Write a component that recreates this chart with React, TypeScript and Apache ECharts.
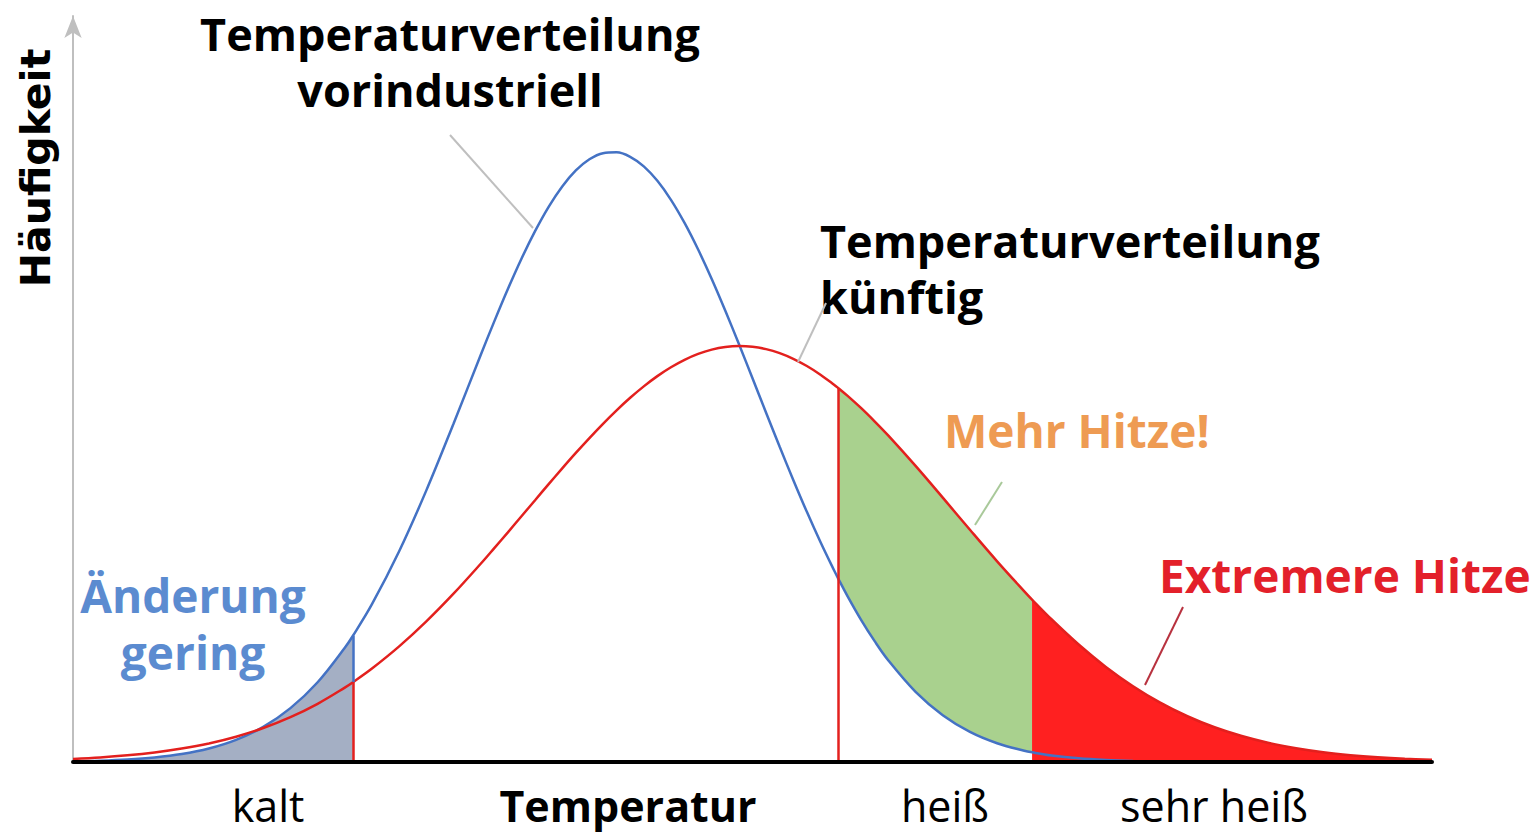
import React, { useEffect, useRef } from 'react';
import * as echarts from 'echarts';

// Temperature axis positions (arbitrary units, 0..100) at which the curves were read
const xs = [0, 2, 4, 6, 8, 10, 12, 14, 16, 18, 20, 20.6, 22, 24, 26, 28, 30, 31, 32, 33, 34, 35, 36, 37, 38, 39, 40, 41, 42, 43, 44, 45, 46, 47, 48, 49, 50, 51, 52, 53, 54, 55, 56, 56.3, 57, 58, 59, 60, 62, 64, 66, 68, 70, 70.57, 72, 74, 76, 78, 80, 82, 84, 86, 88, 90, 92, 94, 96, 98, 100];
// Frequency, pre-industrial distribution (blue)
const preIndustrial = [0.11, 0.21, 0.4, 0.74, 1.3, 2.21, 3.63, 5.76, 8.83, 13.08, 18.73, 20.7, 25.87, 34.55, 44.53, 55.46, 66.73, 72.24, 77.54, 82.51, 87.03, 91.02, 94.36, 96.98, 98.81, 99.81, 99.95, 99.22, 97.65, 95.28, 92.16, 88.37, 84.01, 79.18, 73.97, 68.52, 62.91, 57.27, 51.68, 46.24, 41.01, 36.06, 31.43, 30.11, 27.16, 23.27, 19.77, 16.64, 11.5, 7.67, 4.94, 3.08, 1.85, 1.59, 1.07, 0.6, 0.33, 0.17, 0.08, 0.04, 0.02, 0.01, 0, 0, 0, 0, 0, 0, 0];
// Frequency, future distribution (red)
const future = [0.51, 0.75, 1.09, 1.56, 2.2, 3.04, 4.15, 5.57, 7.35, 9.54, 12.19, 13.08, 15.32, 18.95, 23.05, 27.59, 32.5, 35.06, 37.65, 40.29, 42.92, 45.55, 48.14, 50.67, 53.11, 55.45, 57.66, 59.71, 61.58, 63.26, 64.71, 65.93, 66.9, 67.6, 68.04, 68.2, 68.08, 67.69, 67.03, 66.1, 64.92, 63.5, 61.86, 61.33, 60.02, 58.0, 55.81, 53.5, 48.54, 43.34, 38.07, 32.9, 27.98, 26.63, 23.4, 19.26, 15.59, 12.42, 9.73, 7.5, 5.69, 4.25, 3.12, 2.26, 1.6, 1.12, 0.77, 0.52, 0.35];
// Thresholds: cold / hot / very hot
const thresholds = [20.6, 56.3, 70.57];
const bottomLabels = ['kalt', 'Temperatur', 'heiß', 'sehr heiß'];
const titlePre = ['Temperaturverteilung', 'vorindustriell'];
const titleFuture = ['Temperaturverteilung', 'künftig'];
const noteCold = ['Änderung', 'gering'];
const noteHot = 'Mehr Hitze!';
const noteVeryHot = 'Extremere Hitze';
const yName = 'Häufigkeit';

const FONT = '"Open Sans", "Noto Sans", sans-serif';

function txt(text: string, x: number, y: number, size: number, color: string, weight: string, align: string, extra: any = {}) {
  const { family, ...rest } = extra;
  return {
    type: 'text',
    x,
    y,
    z: 20,
    ...rest,
    style: {
      text,
      fill: color,
      font: `${weight} ${size}px ${family || FONT}`,
      lineHeight: size,
      textAlign: align,
      align,
      textVerticalAlign: 'middle',
      verticalAlign: 'middle',
    },
  };
}

function lead(x1: number, y1: number, x2: number, y2: number, color: string) {
  return {
    type: 'line',
    z: 20,
    shape: { x1, y1, x2, y2 },
    style: { stroke: color, lineWidth: 2 },
  };
}

export default function App() {
  const ref = useRef<HTMLDivElement>(null);
  useEffect(() => {
    const chart = echarts.init(ref.current!, null, { renderer: 'svg' });
    const [tCold, tHot, tVeryHot] = thresholds;
    const pts = (ys: number[], from: number, to: number) =>
      xs.map((x, i) => [x, ys[i]]).filter((p) => p[0] >= from && p[0] <= to);
    const at = (ys: number[], x: number) => ys[xs.indexOf(x)];
    const SMOOTH = 0.35;

    const base = {
      type: 'line',
      smooth: SMOOTH,
      symbol: 'none',
      silent: true,
    };

    chart.setOption({
      animation: false,
      grid: { left: 73, right: 99, top: 16, bottom: 76 },
      xAxis: {
        type: 'value',
        min: 0,
        max: 100,
        z: 5,
        axisLine: { show: true, onZero: false, lineStyle: { color: '#000', width: 4 } },
        axisTick: { show: false },
        axisLabel: { show: false },
        splitLine: { show: false },
      },
      yAxis: {
        type: 'value',
        min: 0,
        max: 122.3,
        axisLine: {
          show: true,
          symbol: ['none', 'arrow'],
          symbolSize: [13, 22],
          lineStyle: { color: '#BFBFBF', width: 2 },
        },
        axisTick: { show: false },
        axisLabel: { show: false },
        splitLine: { show: false },
      },
      series: [
        {
          ...base,
          name: 'kalt-Fläche',
          data: pts(preIndustrial, 0, tCold),
          lineStyle: { width: 0 },
          areaStyle: { color: '#A4AFC4', opacity: 1 },
          z: 1,
        },
        {
          ...base,
          name: 'heiß-Fläche',
          data: pts(future, tHot, tVeryHot),
          lineStyle: { width: 0 },
          areaStyle: { color: '#A9D18E', opacity: 1 },
          z: 1,
        },
        {
          ...base,
          name: 'heiß-Maske',
          data: pts(preIndustrial, tHot, tVeryHot),
          lineStyle: { width: 0 },
          areaStyle: { color: '#FFFFFF', opacity: 1 },
          z: 2,
        },
        {
          ...base,
          name: 'sehr-heiß-Fläche',
          data: pts(future, tVeryHot, 100),
          lineStyle: { width: 0 },
          areaStyle: { color: '#FF2020', opacity: 1 },
          z: 1,
        },
        {
          ...base,
          name: 'vorindustriell',
          data: xs.map((x, i) => [x, preIndustrial[i]]),
          lineStyle: { color: '#4472C4', width: 2.5 },
          z: 3,
          markLine: {
            silent: true,
            symbol: ['none', 'none'],
            label: { show: false },
            lineStyle: { color: '#4472C4', width: 2.5, type: 'solid' },
            data: [[{ coord: [tCold, at(future, tCold)] }, { coord: [tCold, at(preIndustrial, tCold)] }]],
          },
        },
        {
          ...base,
          name: 'künftig',
          data: xs.map((x, i) => [x, future[i]]),
          lineStyle: { color: '#E3201E', width: 2.5 },
          z: 4,
          markLine: {
            silent: true,
            symbol: ['none', 'none'],
            label: { show: false },
            lineStyle: { color: '#E3201E', width: 2.5, type: 'solid' },
            data: [
              [{ coord: [tCold, 0] }, { coord: [tCold, at(future, tCold)] }],
              [{ coord: [tHot, 0] }, { coord: [tHot, at(future, tHot)] }],
            ],
          },
        },
      ],
      graphic: [
        txt(yName, 36, 168, 41, '#000', 'bold', 'center', { rotation: Math.PI / 2, family: '"DejaVu Sans", sans-serif' }),
        txt(titlePre[0], 450, 33, 45, '#000', 'bold', 'center'),
        txt(titlePre[1], 450, 89, 45, '#000', 'bold', 'center'),
        txt(titleFuture[0], 820, 240, 45, '#000', 'bold', 'left'),
        txt(titleFuture[1], 820, 296, 45, '#000', 'bold', 'left'),
        txt(noteHot, 944, 430, 46, '#EE9B53', 'bold', 'left'),
        txt(noteVeryHot, 1159, 575, 46, '#E3202A', 'bold', 'left'),
        txt(noteCold[0], 193, 595, 46, '#5B8BD0', 'bold', 'center'),
        txt(noteCold[1], 193, 652, 46, '#5B8BD0', 'bold', 'center'),
        txt(bottomLabels[0], 268, 805, 43, '#000', 'normal', 'center'),
        txt(bottomLabels[1], 628, 805, 43, '#000', 'bold', 'center'),
        txt(bottomLabels[2], 945, 805, 43, '#000', 'normal', 'center'),
        txt(bottomLabels[3], 1214, 805, 43, '#000', 'normal', 'center'),
        lead(450, 135, 533, 228, '#BFBFBF'),
        lead(826, 303, 798, 362, '#BFBFBF'),
        lead(1002, 482, 975, 525, '#A9C99A'),
        lead(1183, 607, 1145, 685, '#B8323F'),
      ],
    });
    return () => chart.dispose();
  }, []);
  return <div ref={ref} style={{ position: 'fixed', left: 0, top: 0, width: 1531, height: 838, background: '#fff' }} />;
}
